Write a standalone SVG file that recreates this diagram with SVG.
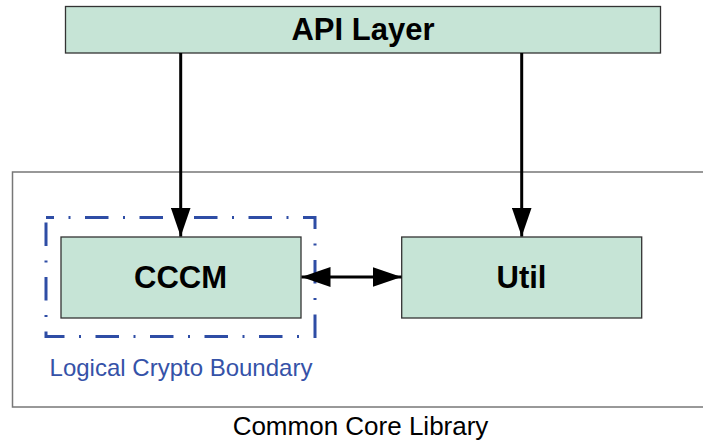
<svg xmlns="http://www.w3.org/2000/svg" width="703" height="448" viewBox="0 0 703 448">
<style>
.box{fill:#C6E4D6;stroke:#333;stroke-width:1.3}
.bold{font-family:"Liberation Sans",Arial,sans-serif;font-weight:bold;fill:#000;text-anchor:middle}
.reg{font-family:"Liberation Sans",Arial,sans-serif;text-anchor:middle}
.conn{stroke:#000;stroke-width:3;fill:none}
</style>
<defs>
<marker id="ah" markerUnits="userSpaceOnUse" markerWidth="30" markerHeight="20" refX="29" refY="10" orient="auto-start-reverse" viewBox="0 0 30 20">
<path d="M0,0 L29,10 L0,20 Z" fill="#000"/>
</marker>
</defs>
<rect width="703" height="448" fill="#fff"/>
<g id="core-library">
<rect x="12.5" y="172" width="700" height="235" fill="none" stroke="#777" stroke-width="1.5"/>
<text class="reg" x="360.5" y="435" font-size="26" fill="#000">Common Core Library</text>
</g>
<g id="crypto-boundary">
<rect x="46" y="217.5" width="269" height="119" fill="none" stroke="#2E4DA5" stroke-width="3" stroke-dasharray="23.5 14.5 2 14.5" stroke-dashoffset="15.5"/>
<text class="reg" x="181" y="376" font-size="24" fill="#3552A8">Logical Crypto Boundary</text>
</g>
<g id="api-layer">
<rect class="box" x="65.5" y="6.5" width="595" height="46.5"/>
<text class="bold" x="363" y="39.5" font-size="31">API Layer</text>
</g>
<g id="cccm">
<rect class="box" x="61" y="237" width="240" height="81"/>
<text class="bold" x="180.5" y="287.5" font-size="31">CCCM</text>
</g>
<g id="util">
<rect class="box" x="401.7" y="237" width="240" height="81"/>
<text class="bold" x="521.5" y="287.5" font-size="31">Util</text>
</g>
<g id="connectors">
<line class="conn" x1="180.7" y1="53" x2="180.7" y2="236.5" marker-end="url(#ah)"/>
<line class="conn" x1="521.7" y1="53" x2="521.7" y2="236.5" marker-end="url(#ah)"/>
<line class="conn" x1="301.5" y1="277" x2="401.5" y2="277" marker-start="url(#ah)" marker-end="url(#ah)"/>
</g>
</svg>
